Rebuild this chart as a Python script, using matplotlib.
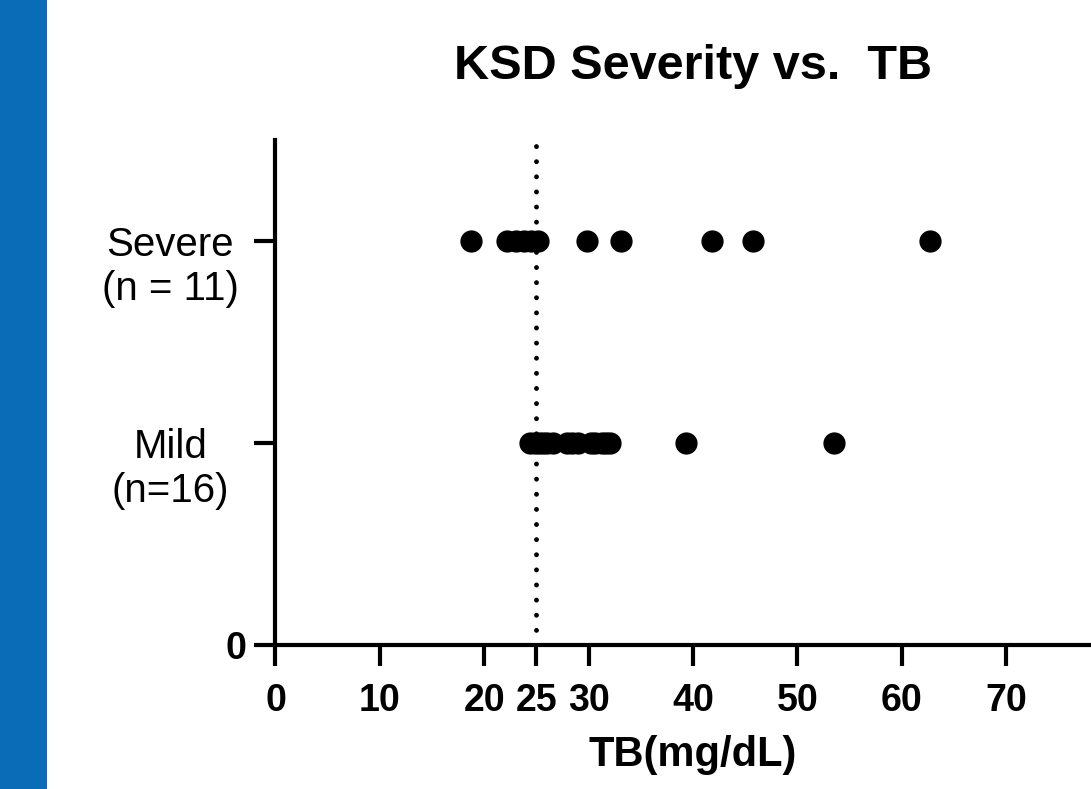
import matplotlib.pyplot as plt
from matplotlib.patches import Rectangle
from matplotlib.transforms import blended_transform_factory, ScaledTranslation

plt.rcParams['font.family'] = ['Liberation Sans', 'DejaVu Sans']

# TB values (mg/dL)
severe_tb = [18.7, 22.2, 23.0, 23.8, 24.5, 25.1, 29.8, 33.1, 41.8, 45.7, 62.7]
mild_tb = [24.4, 24.9, 25.2, 25.6, 26.0, 26.6, 27.9, 28.4, 29.0, 30.2,
           30.6, 31.3, 31.7, 32.0, 39.3, 53.5]
cutoff = 25
x_ticks = [0, 10, 20, 25, 30, 40, 50, 60, 70]
cat_pos = [1, 2]
cat_labels = ["Mild\n(n=16)", "Severe\n(n = 11)"]
title = "KSD Severity vs.  TB"
xlabel = "TB(mg/dL)"

fig = plt.figure(figsize=(10.91, 7.89), dpi=100)
fig.patches.append(Rectangle((0, 0), 47 / 1091, 1, transform=fig.transFigure,
                             facecolor="#0a6bb7", edgecolor="none", zorder=0))
fig.patches.append(Rectangle((45 / 1091, 0), 2 / 1091, 1, transform=fig.transFigure,
                             facecolor="#3a5aa0", edgecolor="none", zorder=0))

ax = fig.add_axes([0.2525, 0.1825, 0.7655, 0.640])

ax.plot(severe_tb, [2] * len(severe_tb), "o", color="black", markersize=15, zorder=3)
ax.plot(mild_tb, [1] * len(mild_tb), "o", color="black", markersize=15, zorder=3)
ax.axvline(cutoff, color="black", lw=3.5, linestyle=(0, (0.01, 3.1)),
           dash_capstyle="round", zorder=2)

ax.set_xlim(0, 80)
ax.set_ylim(0, 2.5)
ax.set_xticks(x_ticks)
ax.set_xticklabels([str(t) for t in x_ticks], fontsize=27, fontweight="bold")
ax.set_yticks([0] + cat_pos)
ax.set_yticklabels(["0", "", ""], fontsize=27, fontweight="bold")

# category labels: first line centred on the tick, second line below
trans = blended_transform_factory(ax.transAxes, ax.transData)
trans = trans + ScaledTranslation(0, -42.5 / 72, fig.dpi_scale_trans)
for y, lab in zip(cat_pos, cat_labels):
    ax.text(-0.126, y, lab, transform=trans, ha="center", va="baseline",
            fontsize=29, linespacing=1.2)

for s in ["top", "right"]:
    ax.spines[s].set_visible(False)
for s in ["left", "bottom"]:
    ax.spines[s].set_linewidth(3)
ax.tick_params(axis="both", length=15, width=3, color="black")
ax.tick_params(axis="x", pad=12)
ax.tick_params(axis="y", pad=6)

ax.set_xlabel(xlabel, fontsize=30, fontweight="bold", labelpad=12)
ax.set_title(title, fontsize=35, fontweight="bold", pad=44)

fig.savefig("out.png", dpi=100)
